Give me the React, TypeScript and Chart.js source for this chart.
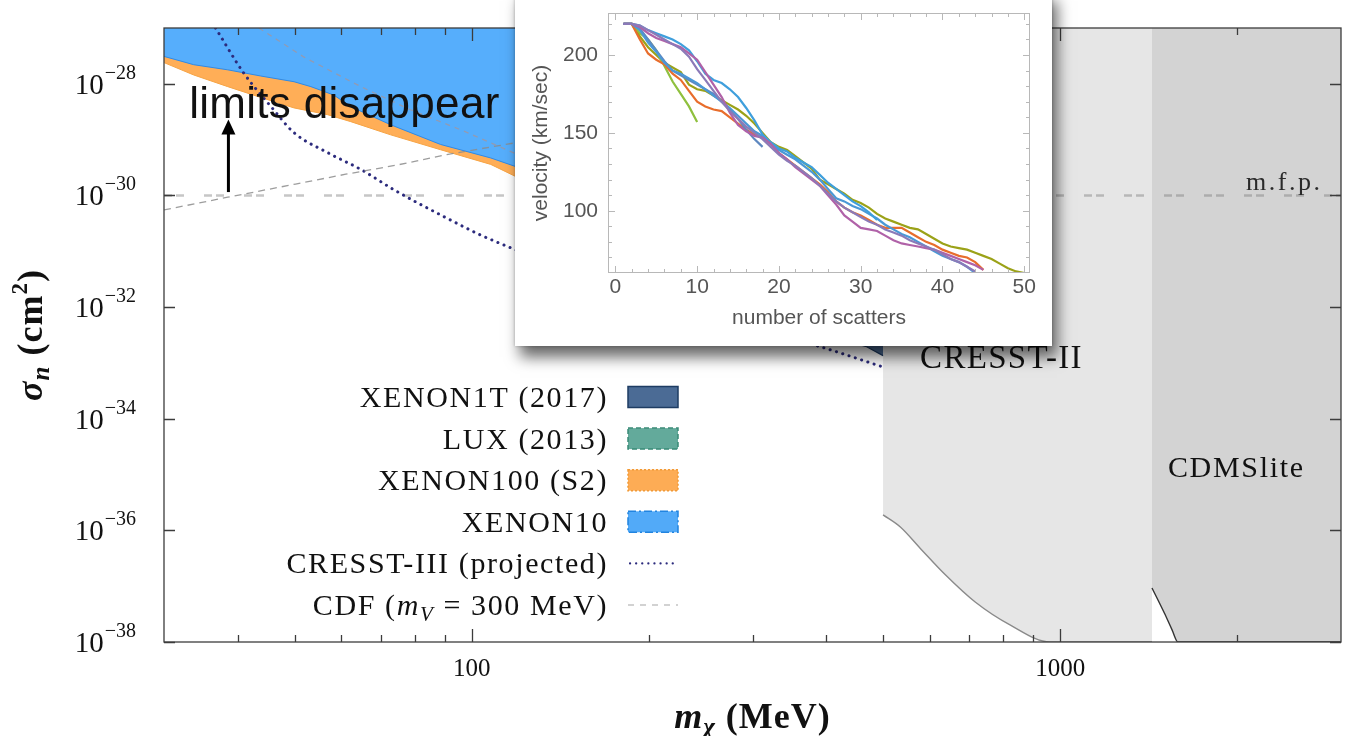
import React, { useEffect, useRef } from 'react';
import { Chart, registerables } from 'chart.js';

Chart.register(...registerables);

const SERIF = '"Liberation Serif", "Times New Roman", serif';
const SANS = '"Liberation Sans", Arial, sans-serif';

// ---------------- main chart: axes ----------------
const massMin = 30;
const massMax = 3000;
const sigmaMin = 1e-38;
const sigmaMax = 1e-27;
const xTickValues = [40, 50, 60, 70, 80, 90, 100, 200, 300, 400, 500, 600, 700, 800, 900, 1000, 2000];
const xTickLabelled = [100, 1000];
const yTickExponents = [-38, -36, -34, -32, -30, -28];

// ---------------- main chart: data (m_chi in MeV, sigma_n in cm^2) ----------------
const xenon10Mass = [30, 33.7, 38.5, 43.8, 49.9, 53.3, 58.3, 62.3, 72.8, 88.5, 107.7, 119.7, 150, 200, 300, 400];
const xenon10Sigma = [3.1e-28, 2.2e-28, 1.78e-28, 1.38e-28, 1.09e-28, 8.9e-29, 6.3e-29, 3.9e-29, 1.85e-29, 8.2e-30, 4.7e-30, 3.2e-30, 1.5e-30, 6e-31, 2e-31, 1e-31];

const xenon100Mass = [30, 33.7, 38.5, 43.8, 49.9, 56.9, 62.3, 72.8, 88.5, 107.7, 119.7, 150, 200, 300, 400];
const xenon100Sigma = [2.4e-28, 1.44e-28, 8.9e-29, 5.7e-29, 3.7e-29, 2.8e-29, 2.1e-29, 1.22e-29, 6.6e-30, 3.6e-30, 2.1e-30, 8e-31, 3e-31, 8e-32, 4e-32];

const luxMass = [140, 200, 300, 420];
const luxSigma = [2e-30, 1e-31, 2e-32, 6e-33];

const xenon1tMass = [180, 250, 350, 469, 500];
const xenon1tSigma = [6e-32, 1.5e-32, 4.5e-33, 1.95e-33, 1.35e-33];

const cresst3Mass = [36.7, 41, 45.6, 49.9, 57, 64.9, 73.8, 89.6, 103.5, 118.8, 165.6, 244.9, 391.6, 499];
const cresst3Sigma = [1e-27, 1.55e-28, 3.9e-29, 1.33e-29, 5.8e-30, 2.9e-30, 1.26e-30, 4.2e-31, 1.96e-31, 1.06e-31, 2.5e-32, 7.2e-33, 1.94e-33, 8.5e-34];

const cdfLowerMass = [30, 38.5, 50.2, 61.1, 74.6, 90.7, 121, 147];
const cdfLowerSigma = [5.5e-31, 9.3e-31, 1.6e-30, 2.4e-30, 3.5e-30, 5.4e-30, 9.1e-30, 1.5e-29];
const cdfUpperMass = [43.5, 51.9, 64.8, 78.8, 95.8, 119.7, 141.6];
const cdfUpperSigma = [1e-27, 3.0e-28, 8.9e-29, 3.4e-29, 1.5e-29, 5.4e-30, 2.6e-30];

const mfpMass = [30, 3000];
const mfpSigma = [1e-30, 1e-30];

const cresst2Mass = [500, 535, 578, 638, 717, 823, 961, 1432];
const cresst2Sigma = [1.9e-36, 1.15e-36, 4.8e-37, 1.6e-37, 5.2e-38, 2e-38, 1e-38, 1e-38];

const cdmsliteMass = [1432, 1503, 1549, 1585, 3000];
const cdmsliteSigma = [9.3e-38, 3.3e-38, 1.65e-38, 1e-38, 1e-38];

const legendLabels = ['XENON1T (2017)', 'LUX (2013)', 'XENON100 (S2)', 'XENON10', 'CRESST-III (projected)', 'CDF (m_V = 300 MeV)'];

// annotation anchors (data coordinates)
const limitsTextAt = { x: 33.1, y: 2.45e-29 };
const arrowFrom = { x: 38.6, y: 1.15e-30 };
const arrowTo = { x: 38.6, y: 2.3e-29 };
const mfpLabelAt = { x: 2790, y: 1.25e-30 };
const cresst2LabelAt = { x: 578, y: 8.1e-34 };
const cdmsLabelAt = { x: 1524, y: 9.1e-36 };

// ---------------- inset: velocity vs number of scatters ----------------
const scatterNumbers = [1, 2, 3, 4, 5, 6, 7, 8, 9, 10, 11, 12, 13, 14, 15, 16, 17, 18, 19, 20, 21, 22, 23, 24, 25, 26, 27, 28, 29, 30, 31, 32, 33, 34, 35, 36, 37, 38, 39, 40, 41, 42, 43, 44, 45, 46, 47, 48, 49, 50];
const insetXTicks = [0, 10, 20, 30, 40, 50];
const insetXMinor = [2, 4, 6, 8, 12, 14, 16, 18, 22, 24, 26, 28, 32, 34, 36, 38, 42, 44, 46, 48];
const insetYTicks = [100, 150, 200];
const insetYMinor = [70, 80, 90, 110, 120, 130, 140, 160, 170, 180, 190, 210, 220];

const runBlueHigh = [220, 220, 219, 216, 214, 212, 210, 207, 203, 196, 188, 184, 182, 178, 173, 166, 158, 149, 144, 140, 138, 134, 131, 128, 123, 118, 114, 110, 106, 103, 99, 94];
const runBlueLong = [220, 220, 216, 208, 202, 195, 190, 188, 185, 182, 178, 174, 170, 166, 161, 156, 151, 148, 143, 139, 136, 133, 129, 125, 120, 114, 108, 106, 103, 101, 98, 95, 91, 88, 85, 83, 80, 77, 74, 71, 69, 67, 64, 60];
const runBlueShort = [220, 220, 217, 210, 203, 196, 190, 187, 184, 181, 178, 175, 170, 165, 159, 152, 146, 141];
const runGreen = [220, 220, 214, 210, 203, 193, 183, 175, 167, 157];
const runOlive = [220, 220, 212, 205, 200, 195, 192, 189, 181, 178, 177, 174, 171, 168, 165, 161, 156, 150, 144, 141, 139, 135, 131, 127, 120, 117, 114, 111, 107, 105, 102, 98, 95, 93, 91, 89, 88, 85, 82, 79, 77, 76, 75, 73, 71, 69, 66, 63, 61, 60];
const runOrange = [220, 220, 210, 201, 197, 194, 188, 184, 177, 170, 167, 165, 164, 160, 156, 152, 149, 147, 143, 137, 133, 129, 125, 121, 117, 112, 106, 102, 99, 97, 94, 91, 89, 89, 89, 86, 83, 80, 78, 75, 73, 71, 70, 67, 62];
const runMagenta = [220, 220, 218, 214, 211, 209, 207, 205, 201, 197, 189, 181, 173, 163, 155, 151, 148, 147, 143, 137, 133, 128, 124, 120, 116, 110, 104, 97, 93, 89, 88, 87, 84, 81, 79, 78, 77, 76, 75, 73, 71, 69, 67, 65, 62];
const runViolet = [220, 220, 219, 216, 213, 210, 207, 204, 199, 191, 184, 177, 170, 164, 159, 154, 150, 146, 141, 136, 132, 129, 125, 121, 116, 111, 106, 102, 99, 96, 93, 91, 88, 86, 84, 81, 79, 77, 75, 72, 69, 67, 64, 61];

const insetRuns = [
  { name: 'run A', color: '#8b7ab8', values: runViolet },
  { name: 'run B', color: '#b062a8', values: runMagenta },
  { name: 'run C', color: '#3f9fdc', values: runBlueHigh },
  { name: 'run D', color: '#4b98d6', values: runBlueLong },
  { name: 'run E', color: '#5e88c0', values: runBlueShort },
  { name: 'run F', color: '#e86d2c', values: runOrange },
  { name: 'run G', color: '#8fc03e', values: runGreen },
  { name: 'run H', color: '#9ba218', values: runOlive },
];

// ---------------- helpers ----------------
const pts = (xs: number[], ys: number[]) => xs.map((x, i) => ({ x, y: ys[i] }));

type Seg = { t: string; font: string; dy?: number };

function segsWidth(ctx: any, segs: Seg[]) {
  let w = 0;
  for (const s of segs) {
    ctx.font = s.font;
    w += ctx.measureText(s.t).width;
  }
  return w;
}

function drawSegs(ctx: any, segs: Seg[], x: number, y: number, align: string, ls = 0) {
  ctx.letterSpacing = ls + 'px';
  const w = segsWidth(ctx, segs);
  let cx = align === 'right' ? x - w : align === 'center' ? x - w / 2 : x;
  ctx.textAlign = 'left';
  ctx.textBaseline = 'alphabetic';
  for (const s of segs) {
    ctx.font = s.font;
    ctx.fillText(s.t, cx, y + (s.dy || 0));
    cx += ctx.measureText(s.t).width;
  }
  ctx.letterSpacing = '0px';
}

function legendSegs(label: string): Seg[] {
  const f = `30px ${SERIF}`;
  if (label.includes('m_V')) {
    const [a, b] = label.split('m_V');
    return [
      { t: a, font: f },
      { t: 'm', font: `italic 30px ${SERIF}` },
      { t: 'V', font: `italic 21px ${SERIF}`, dy: 6 },
      { t: b, font: f },
    ];
  }
  return [{ t: label, font: f }];
}

const mainDecor = {
  id: 'mainDecor',
  afterDatasetsDraw(chart: any) {
    const { ctx, chartArea: a, scales } = chart;
    const X = (v: number) => scales.x.getPixelForValue(v);
    const Y = (v: number) => scales.y.getPixelForValue(v);
    ctx.save();

    // frame with inward ticks
    ctx.strokeStyle = '#3c3c3c';
    ctx.lineWidth = 1.3;
    ctx.strokeRect(a.left, a.top, a.right - a.left, a.bottom - a.top);
    ctx.beginPath();
    for (const v of xTickValues) {
      const px = Math.round(X(v)) + 0.5;
      const len = xTickLabelled.includes(v) ? 13 : 7;
      ctx.moveTo(px, a.bottom);
      ctx.lineTo(px, a.bottom - len);
      ctx.moveTo(px, a.top);
      ctx.lineTo(px, a.top + len);
    }
    for (const e of yTickExponents) {
      const py = Math.round(Y(Math.pow(10, e))) + 0.5;
      ctx.moveTo(a.left, py);
      ctx.lineTo(a.left + 11, py);
      ctx.moveTo(a.right, py);
      ctx.lineTo(a.right - 11, py);
    }
    ctx.stroke();

    // y tick labels 10^e
    ctx.fillStyle = '#111';
    for (const e of yTickExponents) {
      const py = Y(Math.pow(10, e));
      const exp = '\u2212' + String(-e);
      ctx.font = `20px ${SERIF}`;
      ctx.textAlign = 'right';
      ctx.textBaseline = 'alphabetic';
      const ew = ctx.measureText(exp).width;
      const rx = a.left - 28;
      ctx.fillText(exp, rx, py - 5);
      ctx.font = `29px ${SERIF}`;
      ctx.fillText('10', rx - ew - 1, py + 10);
    }

    // axis titles
    const cx = (a.left + a.right) / 2;
    drawSegs(ctx, [
      { t: 'm', font: `bold italic 36px ${SERIF}` },
      { t: '\u03c7', font: `bold italic 25px ${SERIF}`, dy: 7 },
      { t: ' (MeV)', font: `bold 36px ${SERIF}` },
    ], cx, 728, 'center', 1);

    ctx.save();
    ctx.translate(30, (a.top + a.bottom) / 2);
    ctx.rotate(-Math.PI / 2);
    drawSegs(ctx, [
      { t: '\u03c3', font: `bold italic 36px ${SERIF}` },
      { t: 'n', font: `bold italic 25px ${SERIF}`, dy: 7 },
      { t: ' (cm', font: `bold 36px ${SERIF}` },
      { t: '2', font: `bold 23px ${SERIF}`, dy: -15 },
      { t: ')', font: `bold 36px ${SERIF}` },
    ], 0, 12, 'center', 1);
    ctx.restore();

    // annotations
    ctx.fillStyle = '#111';
    drawSegs(ctx, [{ t: 'limits disappear', font: `44px ${SANS}` }], X(limitsTextAt.x), Y(limitsTextAt.y), 'left', 0.3);
    const ax = X(arrowFrom.x);
    const ay0 = Y(arrowFrom.y);
    const ay1 = Y(arrowTo.y);
    ctx.strokeStyle = '#000';
    ctx.lineWidth = 3;
    ctx.beginPath();
    ctx.moveTo(ax, ay0);
    ctx.lineTo(ax, ay1 + 12);
    ctx.stroke();
    ctx.fillStyle = '#000';
    ctx.beginPath();
    ctx.moveTo(ax, ay1);
    ctx.lineTo(ax - 7, ay1 + 15);
    ctx.lineTo(ax + 7, ay1 + 15);
    ctx.closePath();
    ctx.fill();

    ctx.fillStyle = '#2a2a2a';
    drawSegs(ctx, [{ t: 'm.f.p.', font: `26px ${SERIF}` }], X(mfpLabelAt.x), Y(mfpLabelAt.y), 'right', 2.5);
    ctx.fillStyle = '#111';
    drawSegs(ctx, [{ t: 'CRESST-II', font: `33px ${SERIF}` }], X(cresst2LabelAt.x), Y(cresst2LabelAt.y), 'left', 1.3);
    drawSegs(ctx, [{ t: 'CDMSlite', font: `30px ${SERIF}` }], X(cdmsLabelAt.x), Y(cdmsLabelAt.y), 'left', 1.7);

    // legend
    const textRight = a.left + 444;
    const sx = textRight + 20;
    const sw = 50;
    const sh = 21;
    const styles = [
      { fill: '#4b6b95', stroke: '#1e3c63', dash: [] as number[] },
      { fill: '#63aa9b', stroke: '#3a8a77', dash: [5, 3] },
      { fill: '#fdac55', stroke: '#f29a36', dash: [2, 2] },
      { fill: '#52aaf8', stroke: '#2184e0', dash: [8, 3, 2, 3] },
    ];
    legendLabels.forEach((lab, i) => {
      const cy = 397 + i * 41.6;
      ctx.fillStyle = '#111';
      drawSegs(ctx, legendSegs(lab), textRight, cy + 10, 'right', 1.6);
      if (i < 4) {
        const st = styles[i];
        ctx.fillStyle = st.fill;
        ctx.fillRect(sx, cy - sh / 2, sw, sh);
        ctx.strokeStyle = st.stroke;
        ctx.lineWidth = 1.5;
        ctx.setLineDash(st.dash);
        ctx.strokeRect(sx, cy - sh / 2, sw, sh);
        ctx.setLineDash([]);
      } else if (i === 4) {
        ctx.strokeStyle = '#2c2b7d';
        ctx.lineWidth = 2.2;
        ctx.lineCap = 'round';
        ctx.setLineDash([0.1, 6]);
        ctx.beginPath();
        ctx.moveTo(sx + 2, cy);
        ctx.lineTo(sx + sw, cy);
        ctx.stroke();
        ctx.setLineDash([]);
        ctx.lineCap = 'butt';
      } else {
        ctx.strokeStyle = '#c4c4c4';
        ctx.lineWidth = 1.5;
        ctx.setLineDash([6, 6]);
        ctx.beginPath();
        ctx.moveTo(sx, cy);
        ctx.lineTo(sx + sw, cy);
        ctx.stroke();
        ctx.setLineDash([]);
      }
    });
    ctx.restore();
  },
};

const insetDecor = {
  id: 'insetDecor',
  afterDraw(chart: any) {
    const { ctx, chartArea: a, scales } = chart;
    ctx.save();
    ctx.strokeStyle = '#b8b8b8';
    ctx.lineWidth = 1;
    ctx.strokeRect(a.left + 0.5, a.top + 0.5, a.right - a.left - 1, a.bottom - a.top - 1);
    ctx.beginPath();
    const xt = (v: number, len: number) => {
      const px = Math.round(scales.x.getPixelForValue(v)) + 0.5;
      ctx.moveTo(px, a.bottom);
      ctx.lineTo(px, a.bottom - len);
      ctx.moveTo(px, a.top);
      ctx.lineTo(px, a.top + len);
    };
    const yt = (v: number, len: number) => {
      const py = Math.round(scales.y.getPixelForValue(v)) + 0.5;
      ctx.moveTo(a.left, py);
      ctx.lineTo(a.left + len, py);
      ctx.moveTo(a.right, py);
      ctx.lineTo(a.right - len, py);
    };
    insetXTicks.forEach((v) => xt(v, 7));
    insetXMinor.forEach((v) => xt(v, 4));
    insetYTicks.forEach((v) => yt(v, 7));
    insetYMinor.forEach((v) => yt(v, 4));
    ctx.stroke();
    ctx.restore();
  },
};

export default function App() {
  const mainRef = useRef<HTMLCanvasElement>(null);
  const insetRef = useRef<HTMLCanvasElement>(null);

  useEffect(() => {
    document.body.style.margin = '0';
    const lineBase = { pointRadius: 0, pointHoverRadius: 0, tension: 0 };
    const main = new Chart(mainRef.current as HTMLCanvasElement, {
      type: 'line',
      data: {
        datasets: [
          { ...lineBase, label: 'CDF upper', data: pts(cdfUpperMass, cdfUpperSigma), borderColor: 'rgba(160,150,160,0.8)', borderWidth: 1.3, borderDash: [5, 5], fill: false, order: 1 },
          { ...lineBase, label: 'CDF (m_V = 300 MeV)', data: pts(cdfLowerMass, cdfLowerSigma), borderColor: 'rgba(140,140,140,0.85)', borderWidth: 1.3, borderDash: [7, 5], fill: false, order: 1 },
          { ...lineBase, label: 'CRESST-III (projected)', data: pts(cresst3Mass, cresst3Sigma), borderColor: '#2c2b7d', borderWidth: 3, borderDash: [0.1, 6.5], borderCapStyle: 'round', cubicInterpolationMode: 'monotone', fill: false, order: 2 },
          { ...lineBase, label: 'XENON10', data: pts(xenon10Mass, xenon10Sigma), borderColor: '#2f8ae6', backgroundColor: '#56aefc', borderWidth: 1, fill: 'end', order: 3 },
          { ...lineBase, label: 'XENON100 (S2)', data: pts(xenon100Mass, xenon100Sigma), borderColor: '#f6a445', backgroundColor: '#ffae57', borderWidth: 1, fill: 'end', order: 4 },
          { ...lineBase, label: 'LUX (2013)', data: pts(luxMass, luxSigma), borderColor: '#3a8a77', backgroundColor: '#63aa9b', borderWidth: 1, fill: 'end', order: 5 },
          { ...lineBase, label: 'XENON1T (2017)', data: pts(xenon1tMass, xenon1tSigma), borderColor: '#1e3c63', backgroundColor: '#4b6b95', borderWidth: 1.2, fill: 'end', order: 6 },
          { ...lineBase, label: 'm.f.p.', data: pts(mfpMass, mfpSigma), borderColor: 'rgba(120,120,120,0.42)', borderWidth: 2.5, borderDash: [8, 4, 8, 20], fill: false, order: 7 },
          { ...lineBase, label: 'CDMSlite', data: pts(cdmsliteMass, cdmsliteSigma), borderColor: '#333', backgroundColor: '#d3d3d3', borderWidth: 1.4, cubicInterpolationMode: 'monotone', fill: 'end', order: 8 },
          { ...lineBase, label: 'CRESST-II', data: pts(cresst2Mass, cresst2Sigma), borderColor: '#8a8a8a', backgroundColor: '#e6e6e6', borderWidth: 1.4, cubicInterpolationMode: 'monotone', fill: 'end', order: 9 },
        ] as any,
      },
      options: {
        responsive: false,
        animation: false,
        events: [],
        layout: { padding: { left: 0, top: 28, right: 5, bottom: 0 } },
        plugins: { legend: { display: false }, tooltip: { enabled: false } },
        scales: {
          x: {
            type: 'logarithmic',
            min: massMin,
            max: massMax,
            afterBuildTicks: (s: any) => { s.ticks = xTickValues.map((v) => ({ value: v })); },
            afterFit: (s: any) => { s.height = 94; },
            grid: { display: false, drawTicks: false },
            border: { display: false },
            ticks: {
              autoSkip: false,
              maxRotation: 0,
              padding: 12,
              color: '#111',
              font: { family: SERIF, size: 25 },
              callback: (v: any) => (xTickLabelled.includes(Number(v)) ? String(v) : ''),
            },
          },
          y: {
            type: 'logarithmic',
            min: sigmaMin,
            max: sigmaMax,
            afterBuildTicks: (s: any) => { s.ticks = yTickExponents.map((e) => ({ value: Math.pow(10, e) })); },
            afterFit: (s: any) => { s.width = 164; },
            grid: { display: false, drawTicks: false },
            border: { display: false },
            ticks: { display: false },
          },
        },
      } as any,
      plugins: [mainDecor],
    });

    const inset = new Chart(insetRef.current as HTMLCanvasElement, {
      type: 'line',
      data: {
        datasets: insetRuns.map((r) => ({
          ...lineBase,
          label: r.name,
          data: r.values.map((v, i) => ({ x: scatterNumbers[i], y: v })),
          borderColor: r.color,
          borderWidth: 2.2,
          fill: false,
        })),
      },
      options: {
        responsive: false,
        animation: false,
        events: [],
        layout: { padding: { left: 0, top: 23, right: 22, bottom: 0 } },
        plugins: { legend: { display: false }, tooltip: { enabled: false } },
        scales: {
          x: {
            type: 'linear',
            min: -0.9,
            max: 50.7,
            afterBuildTicks: (s: any) => { s.ticks = insetXTicks.map((v) => ({ value: v })); },
            afterFit: (s: any) => { s.height = 73; },
            grid: { display: false, drawTicks: false },
            border: { display: false },
            ticks: { autoSkip: false, maxRotation: 0, padding: 2, color: '#555', font: { family: SANS, size: 21 } },
            title: { display: true, text: 'number of scatters', color: '#555', font: { family: SANS, size: 21 }, padding: { top: 0, bottom: 15 } },
          },
          y: {
            type: 'linear',
            min: 60,
            max: 227,
            afterBuildTicks: (s: any) => { s.ticks = insetYTicks.map((v) => ({ value: v })); },
            afterFit: (s: any) => { s.width = 93; },
            grid: { display: false, drawTicks: false },
            border: { display: false },
            ticks: { padding: 10, color: '#555', font: { family: SANS, size: 21 } },
            title: { display: true, text: 'velocity (km/sec)', color: '#555', font: { family: SANS, size: 21 }, padding: { top: 14, bottom: 0 } },
          },
        },
      } as any,
      plugins: [insetDecor],
    });

    return () => {
      main.destroy();
      inset.destroy();
    };
  }, []);

  return (
    <div style={{ position: 'relative', width: 1346, height: 736, overflow: 'hidden', background: '#fff' }}>
      <canvas ref={mainRef} width={1346} height={736} style={{ position: 'absolute', left: 0, top: 0, width: 1346, height: 736 }} />
      <div
        style={{
          position: 'absolute',
          left: 515,
          top: -10,
          width: 537,
          height: 356,
          background: '#fff',
          boxShadow: '5px 11px 14px rgba(0,0,0,0.6), 0 0 3px rgba(0,0,0,0.25)',
        }}
      >
        <canvas ref={insetRef} width={537} height={356} style={{ width: 537, height: 356, display: 'block' }} />
      </div>
    </div>
  );
}
